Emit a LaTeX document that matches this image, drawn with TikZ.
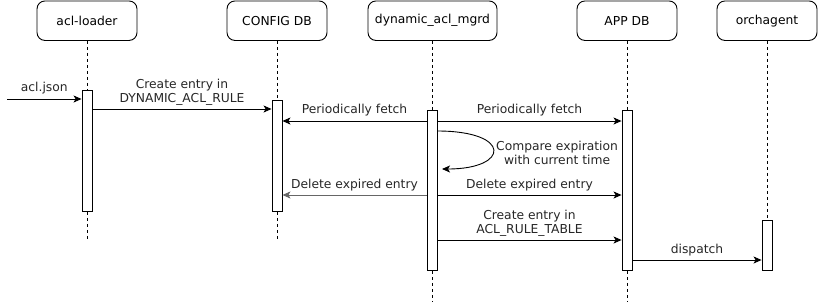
\documentclass[tikz,border=0pt]{standalone}
\usepackage{fontspec}
\setmainfont{DejaVu Sans}
\usetikzlibrary{arrows.meta}
\begin{document}
\begin{tikzpicture}[x=1pt,y=-1pt,
  font=\fontsize{12.3}{14.5}\selectfont,
  actor/.style={draw, line width=0.9pt, rounded corners=8pt, minimum width=100pt, minimum height=39.5pt, inner sep=0pt, anchor=north},
  bar/.style={draw, line width=0.9pt, fill=white, minimum width=10pt, inner sep=0pt, anchor=north},
  life/.style={dash pattern=on 3pt off 3pt, line width=0.8pt},
  msg/.style={line width=0.9pt, -{Stealth[length=8pt,width=7pt,inset=2pt]}},
  lbl/.style={align=center, inner sep=0pt, text=black!85},
]
\useasboundingbox (0,0) rectangle (818,301);

% participants
\node[actor] (loader) at (87,0.5) {acl-loader};
\node[actor] (config) at (277,0.5) {CONFIG DB};
\node[actor, minimum width=129pt] (mgrd) at (432.5,0.5) {dynamic\_acl\_mgrd};
\node[actor] (appdb) at (627,0.5) {APP DB};
\node[actor] (orch) at (767,0.5) {orchagent};

% activation bars
\node[bar, minimum height=121pt] (loaderbar) at (87,90) {};
\node[bar, minimum height=111pt] (configbar) at (277,100) {};
\node[bar, minimum height=160pt] (mgrdbar) at (432,110) {};
\node[bar, minimum height=160pt] (appbar) at (627,110) {};
\node[bar, minimum height=50pt] (orchbar) at (767,220) {};

% lifelines
\coordinate (loaderend) at (87,240);
\coordinate (configend) at (277,240);
\coordinate (mgrdend) at (432,301);
\coordinate (append) at (627,301);
\draw[life] (loader.south) -- (loaderbar.north);
\draw[life] (loaderbar.south) -- (loaderend);
\draw[life] (config.south) -- (configbar.north);
\draw[life] (configbar.south) -- (configend);
\draw[life] (mgrd.south -| mgrdbar.north) -- (mgrdbar.north);
\draw[life] (mgrdbar.south) -- (mgrdend);
\draw[life] (appdb.south) -- (appbar.north);
\draw[life] (appbar.south) -- (append);
\draw[life] (orch.south) -- (orchbar.north);

% messages
\coordinate (src) at (7,99);
\draw[msg] (src) -- (loaderbar.west |- src)
  node[lbl, pos=0.5, above=4pt] {acl.json};

\draw[msg] (loaderbar.east |- 0,109) -- (configbar.west |- 0,109)
  node[lbl, midway, above=3pt] {Create entry in\\DYNAMIC\_ACL\_RULE};

\draw[msg] (mgrdbar.west |- 0,121) -- (configbar.east |- 0,121)
  node[lbl, midway, above=4pt] {Periodically fetch};
\draw[msg] (mgrdbar.east |- 0,121) -- (appbar.west |- 0,121)
  node[lbl, midway, above=4pt] {Periodically fetch};

% self call
\coordinate (loopend) at (442,169);
\draw[msg] (mgrdbar.east |- 0,131) .. controls (512,131) and (510,169) .. (loopend);
\node[lbl, anchor=west] (cmp) at (496,153) {Compare expiration\\with current time};

\draw[msg, draw=black!60] (mgrdbar.west |- 0,195) -- (configbar.east |- 0,195)
  node[lbl, midway, above=4pt] {Delete expired entry};
\draw[msg] (mgrdbar.east |- 0,195) -- (appbar.west |- 0,195)
  node[lbl, midway, above=4pt] {Delete expired entry};

\draw[msg] (mgrdbar.east |- 0,240) -- (appbar.west |- 0,240)
  node[lbl, midway, above=3pt] {Create entry in\\ACL\_RULE\_TABLE};

\draw[msg] (appbar.east |- 0,260) -- (orchbar.west |- 0,260)
  node[lbl, midway, above=4pt] {dispatch};
\end{tikzpicture}
\end{document}
